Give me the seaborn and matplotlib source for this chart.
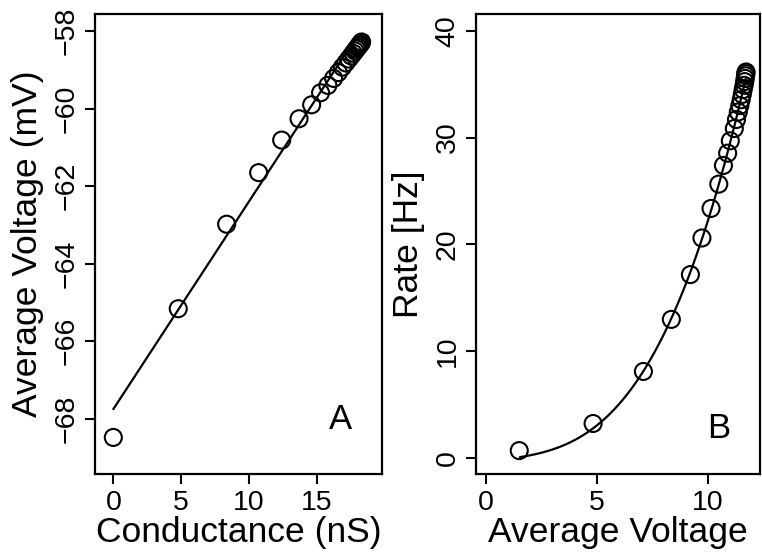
import numpy as np
import pandas as pd
import matplotlib
matplotlib.use("Agg")
import matplotlib.pyplot as plt
import seaborn as sns

# ---- Panel A data: conductance (nS) vs average voltage (mV) ----
conductance_nS = [0.00, 4.79, 8.36, 10.72, 12.42, 13.70, 14.63, 15.29, 15.83,
                  16.25, 16.60, 16.90, 17.15, 17.37, 17.55, 17.70, 17.83,
                  17.94, 18.03, 18.11, 18.18, 18.24, 18.28, 18.32]
avg_voltage_mV = [-68.48, -65.16, -62.98, -61.65, -60.81, -60.26, -59.90,
                  -59.59, -59.40, -59.22, -59.07, -58.93, -58.82, -58.72,
                  -58.64, -58.57, -58.51, -58.46, -58.42, -58.38, -58.35,
                  -58.32, -58.30, -58.28]
lineA_x = [0.0, 17.6]
lineA_y = [-67.75, -58.33]

# ---- Panel B data: average voltage vs rate (Hz) ----
depol_V = [1.50, 4.83, 7.10, 8.36, 9.22, 9.74, 10.15, 10.50, 10.71, 10.90,
           11.02, 11.20, 11.30, 11.38, 11.45, 11.51, 11.56, 11.60, 11.64,
           11.67, 11.69, 11.71, 11.72, 11.73]
rate_Hz = [0.66, 3.20, 8.08, 12.96, 17.16, 20.59, 23.36, 25.64, 27.39, 28.54,
           29.70, 30.85, 31.70, 32.40, 33.00, 33.55, 34.05, 34.50, 34.90,
           35.25, 35.55, 35.80, 36.00, 36.15]
# fitted curve, read at a few places off the picture
curveB_x = [1.53, 3.19, 4.84, 6.00, 7.10, 8.36, 9.22, 10.15, 10.71, 11.20, 11.73]
curveB_y = [0.00, 1.00, 2.75, 5.00, 8.10, 13.00, 17.20, 23.40, 27.40, 30.90, 35.60]

xticksA = [0, 5, 10, 15]
yticksA = [-68, -66, -64, -62, -60, -58]
xticksB = [0, 5, 10]
yticksB = [0, 10, 20, 30, 40]

sns.set_theme(style="white")
plt.rcParams["font.family"] = ["Liberation Sans", "DejaVu Sans"]

fig = plt.figure(figsize=(7.62, 5.52), dpi=100)
axA = fig.add_axes([0.1247, 0.1408, 0.3766, 0.8337])
axB = fig.add_axes([0.6247, 0.1408, 0.3727, 0.8337])

dfA = pd.DataFrame({"g": conductance_nS, "v": avg_voltage_mV})
dfB = pd.DataFrame({"v": depol_V, "r": rate_Hz})

# fitted lines
sns.lineplot(x=lineA_x, y=lineA_y, ax=axA, color="black", lw=1.6)
coef = np.polyfit(curveB_x, curveB_y, 3)
xs = np.linspace(curveB_x[0], curveB_x[-1], 200)
sns.lineplot(x=xs, y=np.polyval(coef, xs), ax=axB, color="black", lw=1.6)

sns.scatterplot(data=dfA, x="g", y="v", ax=axA, marker="o", s=150,
                color="black", linewidth=1.5, zorder=3)
axA.collections[-1].set_facecolor("none")
axA.collections[-1].set_edgecolor("black")
sns.scatterplot(data=dfB, x="v", y="r", ax=axB, marker="o", s=150,
                color="black", linewidth=1.5, zorder=3)
axB.collections[-1].set_facecolor("none")
axB.collections[-1].set_edgecolor("black")

axA.set_xlim(-1.35, 19.82)
axA.set_ylim(-69.43, -57.56)
axB.set_xlim(-0.45, 12.36)
axB.set_ylim(-1.56, 41.58)

axA.set_xticks(xticksA)
axA.set_yticks(yticksA)
axB.set_xticks(xticksB)
axB.set_yticks(yticksB)

for ax in (axA, axB):
    for sp in ax.spines.values():
        sp.set_visible(True)
        sp.set_color("black")
        sp.set_linewidth(1.6)
    ax.tick_params(axis="both", direction="out", length=7, width=1.5,
                   color="black", labelsize=20.5, pad=4,
                   bottom=True, left=True, labelcolor="black")
    ax.tick_params(axis="y", labelrotation=90)
    for lab in ax.get_yticklabels():
        lab.set_va("center")
    ax.grid(False)

axA.set_xlabel("Conductance (nS)", fontsize=25.5, labelpad=0, color="black")
axA.set_ylabel("Average Voltage (mV)", fontsize=25.5, labelpad=7, color="black")
axB.set_xlabel("Average Voltage", fontsize=25.5, labelpad=0, color="black")
axB.set_ylabel("Rate [Hz]", fontsize=25.5, labelpad=7, color="black")

axA.text(0.857, 0.118, "A", transform=axA.transAxes, fontsize=25,
         ha="center", va="center", color="black")
axB.text(0.853, 0.10, "B", transform=axB.transAxes, fontsize=25,
         ha="center", va="center", color="black")

fig.savefig("out.png", dpi=100)
